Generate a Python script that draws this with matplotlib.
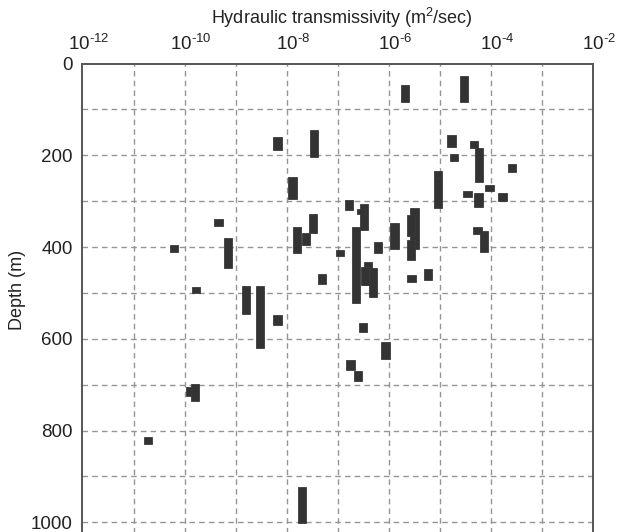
import matplotlib
matplotlib.use("Agg")
import matplotlib.pyplot as plt
import matplotlib.transforms as mtransforms
import numpy as np

plt.rcParams['font.family'] = ['Liberation Sans', 'DejaVu Sans']
plt.rcParams['mathtext.fontset'] = 'custom'
plt.rcParams['mathtext.rm'] = 'Liberation Sans'
plt.rcParams['mathtext.it'] = 'Liberation Sans:italic'
plt.rcParams['mathtext.bf'] = 'Liberation Sans:bold'

# Transmissivity (m2/sec) of each tested interval, with its depth range (m)
transmissivity = [
    2.1e-6, 3.0e-5, 6.6e-9, 3.5e-8, 1.3e-8, 4.6e-10, 7.1e-10, 6.2e-11,
    1.6e-8, 2.4e-8, 3.3e-8, 1.1e-7, 5.0e-8, 1.7e-10, 1.6e-9, 3.0e-9,
    6.6e-9, 1.26e-10, 1.6e-10, 1.95e-11, 2.0e-8, 1.7e-5, 1.9e-5, 4.7e-5,
    5.9e-5, 2.6e-4, 9.3e-6, 9.3e-6, 9.5e-5, 3.5e-5, 5.8e-5, 1.7e-4,
    1.66e-7, 3.3e-7, 2.3e-7, 6.2e-7, 1.3e-6, 3.2e-6, 2.75e-6, 2.75e-6,
    2.8e-6, 5.9e-6, 3.9e-7, 3.4e-7, 5.0e-7, 3.1e-7, 8.7e-7, 1.8e-7,
    2.5e-7, 5.5e-5, 7.4e-5, 2.9e-7,
]
depth_top = [
    47, 27, 160, 146, 248, 339, 381, 395,
    357, 370, 328, 406, 459, 487, 486, 485,
    549, 706, 698, 813, 924, 155, 197, 169,
    185, 219, 235, 250, 265, 277, 282, 283,
    298, 306, 357, 389, 347, 316, 330, 384,
    462, 447, 432, 443, 445, 565, 607, 647,
    671, 357, 365, 318,
]
depth_bottom = [
    84, 83, 189, 203, 296, 354, 445, 410,
    414, 396, 370, 420, 481, 501, 545, 621,
    569, 724, 735, 829, 1001, 182, 212, 185,
    258, 237, 249, 316, 278, 291, 312, 300,
    320, 363, 521, 412, 405, 405, 375, 428,
    477, 471, 483, 483, 508, 585, 645, 667,
    691, 371, 410, 327,
]

x_ticks = [1e-12, 1e-10, 1e-8, 1e-6, 1e-4, 1e-2]
x_tick_labels = [r'$\mathregular{10^{\text{-}12}}$', r'$\mathregular{10^{\text{-}10}}$',
                 r'$\mathregular{10^{\text{-}8}}$', r'$\mathregular{10^{\text{-}6}}$',
                 r'$\mathregular{10^{\text{-}4}}$', r'$\mathregular{10^{\text{-}2}}$']
y_ticks = [0, 200, 400, 600, 800, 1000]

W, H = 617, 532
fig = plt.figure(figsize=(W / 100, H / 100), dpi=100)

left_px, right_px, top_px = 82.5, 592.7, 63.5
px_per_m = (522.3 - 63.5) / 1000.0
ymax = 1040
bottom_px = top_px + ymax * px_per_m
ax = fig.add_axes([left_px / W, 1 - bottom_px / H,
                   (right_px - left_px) / W, (bottom_px - top_px) / H])

ax.set_xscale('log')
ax.set_xlim(1e-12, 1e-2)
ax.set_ylim(ymax, 0)

# bars: fixed width in log space
hw = 0.0815
T = np.array(transmissivity)
top = np.array(depth_top, dtype=float)
bot = np.array(depth_bottom, dtype=float)
lefts = T * 10 ** (-hw)
widths = T * (10 ** hw - 10 ** (-hw))
ax.bar(lefts, bot - top, width=widths, bottom=top, align='edge',
       color='#333333', edgecolor='#3a3a3a', linewidth=0.6, zorder=3)

# grid
gc = '#959595'
for e in range(-11, -2):
    ax.axvline(10.0 ** e, color=gc, lw=1.0, ls=(0, (4, 3)), zorder=1)
for d in range(100, 1100, 100):
    ax.axhline(d, color=gc, lw=1.0, ls=(0, (4, 3)), zorder=1)

ax.xaxis.tick_top()
ax.xaxis.set_label_position('top')
ax.set_xticks(x_ticks)
ax.set_xticklabels(x_tick_labels)
ax.xaxis.set_minor_locator(matplotlib.ticker.NullLocator())
ax.set_yticks(y_ticks)
ax.tick_params(axis='x', length=0, pad=7, labelsize=13.5, colors='#222222')
ax.tick_params(axis='y', length=0, pad=7, labelsize=13.5, colors='#222222')

offset = mtransforms.ScaledTranslation(0.065, 0, fig.dpi_scale_trans)
for lab in ax.get_xticklabels():
    lab.set_transform(lab.get_transform() + offset)

for s in ['left', 'right', 'top', 'bottom']:
    ax.spines[s].set_color('#555555')
    ax.spines[s].set_linewidth(1.4)

fig.text(342 / W, 1 - 18 / H, r'Hydraulic transmissivity (m$\mathregular{^2}$/sec)',
         ha='center', va='center', fontsize=13, color='#222222')
fig.text(18 / W, 1 - 290 / H, 'Depth (m)', rotation=90,
         ha='center', va='center', fontsize=13, color='#222222')

fig.savefig('out.png', dpi=100)
